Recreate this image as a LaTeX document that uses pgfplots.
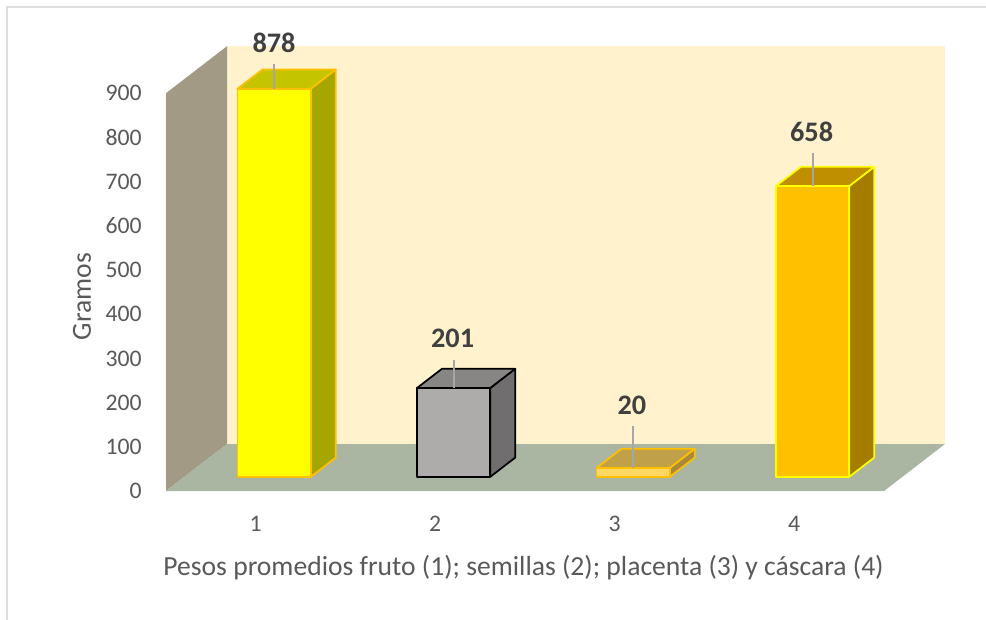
\documentclass[border=0pt]{standalone}
\usepackage{pgfplots}
\pgfplotsset{compat=1.18}
\usepackage{fontspec}
\setmainfont{Carlito}
\definecolor{tickgray}{HTML}{595959}
\definecolor{lblgray}{HTML}{404040}
\definecolor{bordergray}{HTML}{DEDEDE}
\definecolor{leadgray}{HTML}{A6A6A6}
\definecolor{backwall}{HTML}{FFF2CC}
\definecolor{leftwall}{HTML}{A29A85}
\definecolor{floorc}{HTML}{AAB5A2}
\definecolor{bAfront}{HTML}{FFFF00}
\definecolor{bAside}{HTML}{A6A600}
\definecolor{bAtop}{HTML}{C4C400}
\definecolor{bAedge}{HTML}{FFC000}
\definecolor{bBfront}{HTML}{AEABAB}
\definecolor{bBside}{HTML}{706E6E}
\definecolor{bBtop}{HTML}{888585}
\definecolor{bBedge}{HTML}{000000}
\definecolor{bCfront}{HTML}{FFD863}
\definecolor{bCside}{HTML}{A8893B}
\definecolor{bCtop}{HTML}{C0A048}
\definecolor{bCedge}{HTML}{FFC000}
\definecolor{bDfront}{HTML}{FFC000}
\definecolor{bDside}{HTML}{A37C00}
\definecolor{bDtop}{HTML}{BF8F00}
\definecolor{bDedge}{HTML}{FFFF00}
% #1 category, #2 value, #3 front, #4 side, #5 top, #6 edge
\newcommand\drawbar[6]{%
  \pgfmathsetmacro\xL{#1-0.204+0.102}%
  \pgfmathsetmacro\xR{#1+0.204+0.102}%
  \pgfmathsetmacro\xLb{#1-0.204+0.2414}%
  \pgfmathsetmacro\xRb{#1+0.204+0.2414}%
  \pgfmathsetmacro\yB{31.9}%
  \pgfmathsetmacro\yT{31.9+#2}%
  \pgfmathsetmacro\yBb{75.5}%
  \pgfmathsetmacro\yTb{75.5+#2}%
  \edef\tmp{%
    \noexpand\addplot[fill=#4, draw=#6, line width=1.3pt, line join=round] coordinates {(\xR,\yB) (\xRb,\yBb) (\xRb,\yTb) (\xR,\yT)} --cycle;
    \noexpand\addplot[fill=#5, draw=#6, line width=1.3pt, line join=round] coordinates {(\xL,\yT) (\xR,\yT) (\xRb,\yTb) (\xLb,\yTb)} --cycle;
    \noexpand\addplot[fill=#3, draw=#6, line width=1.3pt, line join=round] coordinates {(\xL,\yB) (\xR,\yB) (\xR,\yT) (\xL,\yT)} --cycle;
  }\tmp}
\begin{document}
\begin{tikzpicture}
\path[use as bounding box] (0,0) rectangle (739.5pt,-465pt);
\draw[bordergray, line width=1.6pt] (5.2pt,-466pt) -- (5.2pt,-5.4pt) -- (740pt,-5.4pt);
\begin{axis}[
  at={(124.5pt,-368.25pt)}, anchor=south west,
  scale only axis, width=584.25pt, height=333.6pt,
  xmin=0.5, xmax=4.84, ymin=0, ymax=1006.3,
  clip=false, no markers,
  axis line style={draw=none},
  major tick length=0pt,
  xtick={1,2,3,4}, ytick={0,100,...,900},
  tick label style={font=\fontsize{17.8pt}{20pt}\selectfont, text=tickgray},
  /pgf/number format/assume math mode=true,
  yticklabel style={anchor=east, inner sep=0pt, xshift=-18pt},
  xticklabel style={anchor=base, inner sep=0pt, yshift=-30pt},
  xlabel={Pesos promedios fruto (1); semillas (2); placenta (3) y cáscara (4)},
  ylabel={Gramos},
  label style={font=\fontsize{20.7pt}{24pt}\selectfont, text=tickgray, inner sep=0pt},
  xlabel style={at={(axis description cs:0.459,-0.191)}, anchor=base},
  ylabel style={at={(axis description cs:-0.0963,0.4373)}, anchor=base, rotate=0},
]
% walls and floor
\addplot[fill=backwall, draw=none] coordinates {(0.84,106.3) (4.84,106.3) (4.84,1006.3) (0.84,1006.3)} --cycle;
\addplot[fill=leftwall, draw=none] coordinates {(0.5,0) (0.84,106.3) (0.84,1006.3) (0.5,900)} --cycle;
\addplot[fill=floorc, draw=none] coordinates {(0.5,0) (4.5,0) (4.84,106.3) (0.84,106.3)} --cycle;
% bars
\drawbar{1}{878}{bAfront}{bAside}{bAtop}{bAedge}
\drawbar{2}{201}{bBfront}{bBside}{bBtop}{bBedge}
\drawbar{3}{20}{bCfront}{bCside}{bCtop}{bCedge}
\drawbar{4}{658}{bDfront}{bDside}{bDtop}{bDedge}
% leader lines
\addplot[leadgray, line width=1.5pt] coordinates {(1.102,909.9) (1.102,966)};
\addplot[leadgray, line width=1.5pt] coordinates {(2.102,232.9) (2.102,296.4)};
\addplot[leadgray, line width=1.5pt] coordinates {(3.102,51.9) (3.102,147.7)};
\addplot[leadgray, line width=1.5pt] coordinates {(4.102,689.9) (4.102,764.7)};
% data labels
\begin{scope}[every node/.style={font=\bfseries\fontsize{21.2pt}{24pt}\selectfont, text=lblgray, inner sep=0pt}]
\node at (axis cs:1.1017,1013.6) {878};
\node at (axis cs:2.097,346.2) {201};
\node at (axis cs:3.096,194.6) {20};
\node at (axis cs:4.097,811.5) {658};
\end{scope}
\end{axis}
\end{tikzpicture}
\end{document}
